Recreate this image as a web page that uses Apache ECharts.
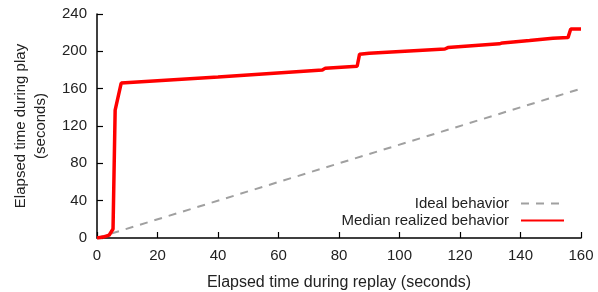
<!DOCTYPE html>
<html>
<head>
<meta charset="utf-8">
<script src="https://cdn.jsdelivr.net/npm/echarts@6/dist/echarts.min.js"></script>
<style>
  html, body { margin: 0; padding: 0; background: #fff; }
  #chart { width: 598px; height: 292px; }
</style>
</head>
<body>
<div id="chart"></div>
<script>
// elapsed replay time (s) vs elapsed play time (s)
const replayTime = [0, 2, 4, 5.3, 6, 8, 40, 74.5, 75.5, 86, 86.8, 90, 115, 116, 133, 134, 143, 150.7, 155.7, 156.6, 160];
const playTime   = [0, 1, 3, 9.6, 137, 166, 172.5, 180, 182, 184, 197, 198, 202.5, 204, 208, 209, 211.5, 214, 214.7, 224, 224];
const idealX = [0, 160];
const idealY = [0, 160];

const fontFamily = '"Liberation Sans", Arial, sans-serif';

const chart = echarts.init(document.getElementById('chart'));

const legendBase = {
  right: 28,
  align: 'right',
  itemWidth: 43, itemHeight: 14,
  itemStyle: { opacity: 0 },
  textStyle: { fontSize: 15, color: '#222', fontFamily: fontFamily, padding: [0, 7, 0, 0] }
};

chart.setOption({
  animation: false,
  textStyle: { fontFamily: fontFamily },
  grid: { left: 97, right: 17, top: 14, bottom: 54, outerBoundsMode: 'none' },
  legend: [
    Object.assign({ data: ['Ideal behavior'], top: 191 }, legendBase),
    Object.assign({ data: ['Median realized behavior'], top: 208 }, legendBase)
  ],
  xAxis: {
    type: 'value',
    min: 0, max: 160, interval: 20,
    name: 'Elapsed time during replay (seconds)',
    nameLocation: 'middle', nameGap: 37,
    nameTextStyle: { fontSize: 16, color: '#222' },
    axisLine: { lineStyle: { color: '#000', width: 1.5 } },
    axisTick: { inside: true, length: 6, lineStyle: { color: '#000', width: 1.2 } },
    axisLabel: { fontSize: 15, color: '#222', margin: 10 },
    splitLine: { show: false }
  },
  yAxis: {
    type: 'value',
    min: 0, max: 240, interval: 40,
    name: 'Elapsed time during play\n(seconds)',
    nameLocation: 'middle', nameGap: 43,
    nameTextStyle: { fontSize: 15, color: '#222', lineHeight: 20 },
    axisLine: { show: true, lineStyle: { color: '#000', width: 1.5 } },
    axisTick: { show: true, inside: true, length: 6, lineStyle: { color: '#000', width: 1.2 } },
    axisLabel: { fontSize: 15, color: '#222', margin: 10 },
    splitLine: { show: false }
  },
  series: [
    {
      name: 'Ideal behavior',
      type: 'line',
      symbol: 'none',
      data: idealX.map((x, i) => [x, idealY[i]]),
      lineStyle: { color: '#a0a0a0', width: 2, type: [8, 7] },
      itemStyle: { color: '#a0a0a0' },
      z: 1
    },
    {
      name: 'Median realized behavior',
      type: 'line',
      symbol: 'none',
      data: replayTime.map((x, i) => [x, playTime[i]]),
      lineStyle: { color: '#ff0000', width: 3.5 },
      itemStyle: { color: '#ff0000' },
      z: 2
    }
  ]
});
</script>
</body>
</html>
